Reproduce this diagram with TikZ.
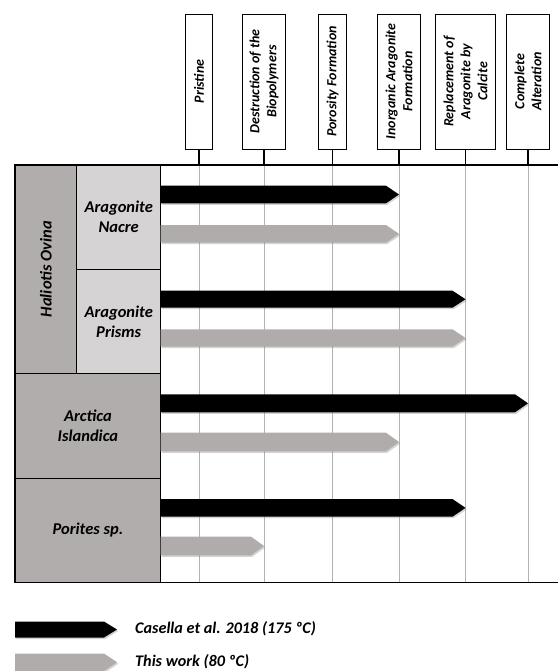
\documentclass[tikz,border=0pt]{standalone}
\usepackage{fontspec}
\setmainfont{Carlito}
\usetikzlibrary{shadows}
\definecolor{bargray}{HTML}{B0ACAB}
\definecolor{celldark}{HTML}{B0ADAC}
\definecolor{celllight}{HTML}{D5D3D3}
\tikzset{
  hbox/.style={draw=black, line width=0.9pt, fill=white, minimum height=135pt, inner sep=0pt},
  htxt/.style={rotate=90, inner sep=0pt, align=center, font=\fontsize{14}{17}\selectfont\bfseries\itshape},
  stem/.style={line width=1.1pt},
  frame/.style={line width=1.2pt},
  grid/.style={gray!60, line width=0.5pt},
  lbl/.style={align=center, font=\fontsize{16.5}{20}\selectfont\bfseries\itshape},
  legtxt/.style={anchor=west, inner sep=0pt, font=\fontsize{16.2}{18}\selectfont\bfseries\itshape},
  blk/.style={fill=black, drop shadow={opacity=0.35, shadow xshift=1.2pt, shadow yshift=-1.5pt}},
  gry/.style={fill=bargray, drop shadow={opacity=0.35, shadow xshift=1.2pt, shadow yshift=-1.5pt}},
}
\newcommand{\stagebar}[5]{% style, x0, x1, ytop, ybot
  \path[#1] (#2,#4) -- ({#3-13},#4) -- (#3,{(#4+#5)/2}) -- ({#3-13},#5) -- (#2,#5) -- cycle;}
\begin{document}
\begin{tikzpicture}[x=1pt,y=-1pt]
\useasboundingbox (0,0) rectangle (558,671);
\coordinate (TL) at (15,165);
\coordinate (TR) at (558,165);
\coordinate (BL) at (15,582.5);
\coordinate (BR) at (558,582.5);
% header boxes
\node[hbox, minimum width=27pt]   (h1) at (199,81.5) {};
\node[hbox, minimum width=42.6pt] (h2) at (264,81.5) {};
\node[hbox, minimum width=27.4pt] (h3) at (332.5,81.5) {};
\node[hbox, minimum width=42.7pt] (h4) at (399,81.5) {};
\node[hbox, minimum width=59.3pt] (h5) at (465.5,81.5) {};
\node[hbox, minimum width=42.7pt] (h6) at (528,81.5) {};
\node[htxt] (t1) at (h1.center) {Pristine};
\node[htxt] (t2) at (h2.center) {Destruction of the\\Biopolymers};
\node[htxt] (t3) at (h3.center) {Porosity Formation};
\node[htxt] (t4) at (h4.center) {Inorganic Aragonite\\Formation};
\node[htxt] (t5) at (h5.center) {Replacement of\\Aragonite by\\Calcite};
\node[htxt] (t6) at (h6.center) {Complete\\Alteration};
% grid lines and stems
\foreach \n in {h1,h2,h3,h4,h5,h6}{
  \coordinate (\n top) at (\n.south |- TL);
  \coordinate (\n bot) at (\n.south |- BL);
  \draw[grid] (\n top) -- (\n bot);
  \draw[stem] (\n.south) -- (\n top);
}
% label cells
\draw[frame, fill=celldark] (15,165) rectangle (76.7,373.3);
\draw[frame, fill=celllight] (76.7,165) rectangle (160.7,269.3);
\draw[frame, fill=celllight] (76.7,269.3) rectangle (160.7,373.3);
\draw[frame, fill=celldark] (15,373.3) rectangle (160.7,478.3);
\draw[frame, fill=celldark] (15,478.3) rectangle (160.7,582.5);
\node[lbl, rotate=90] (hal) at (45.9,269.2) {Haliotis Ovina};
\node[lbl] (nac) at (118.7,217.2) {Aragonite\\Nacre};
\node[lbl] (pri) at (118.7,321.3) {Aragonite\\Prisms};
\node[lbl] (arc) at (87.9,425.8) {Arctica\\Islandica};
\node[lbl] (por) at (87.9,530.4) {Porites sp.};
% frame lines
\draw[frame] (TL) -- (TR);
\draw[frame] (BL) -- (BR);
\draw[frame] (160.7,165) -- (160.7,582.5);
% bars
\stagebar{blk}{160.7}{399}{185.7}{203.3}
\stagebar{gry}{160.7}{399}{225}{242.7}
\stagebar{blk}{160.7}{465.5}{290.7}{307.7}
\stagebar{gry}{160.7}{465.5}{329.3}{346.7}
\stagebar{blk}{160.7}{528}{394.3}{412.3}
\stagebar{gry}{160.7}{399}{432.7}{451.3}
\stagebar{blk}{160.7}{465.5}{499}{516.7}
\stagebar{gry}{160.7}{264}{536.7}{555.3}
% legend
\stagebar{blk}{15}{117}{621.5}{637.5}
\stagebar{gry}{15}{117}{653.5}{671}
\node[legtxt] (l1) at (135,629) {Casella et al. 2018 (175 ºC)};
\node[legtxt] (l2) at (135,661.5) {This work (80 ºC)};
\end{tikzpicture}
\end{document}
